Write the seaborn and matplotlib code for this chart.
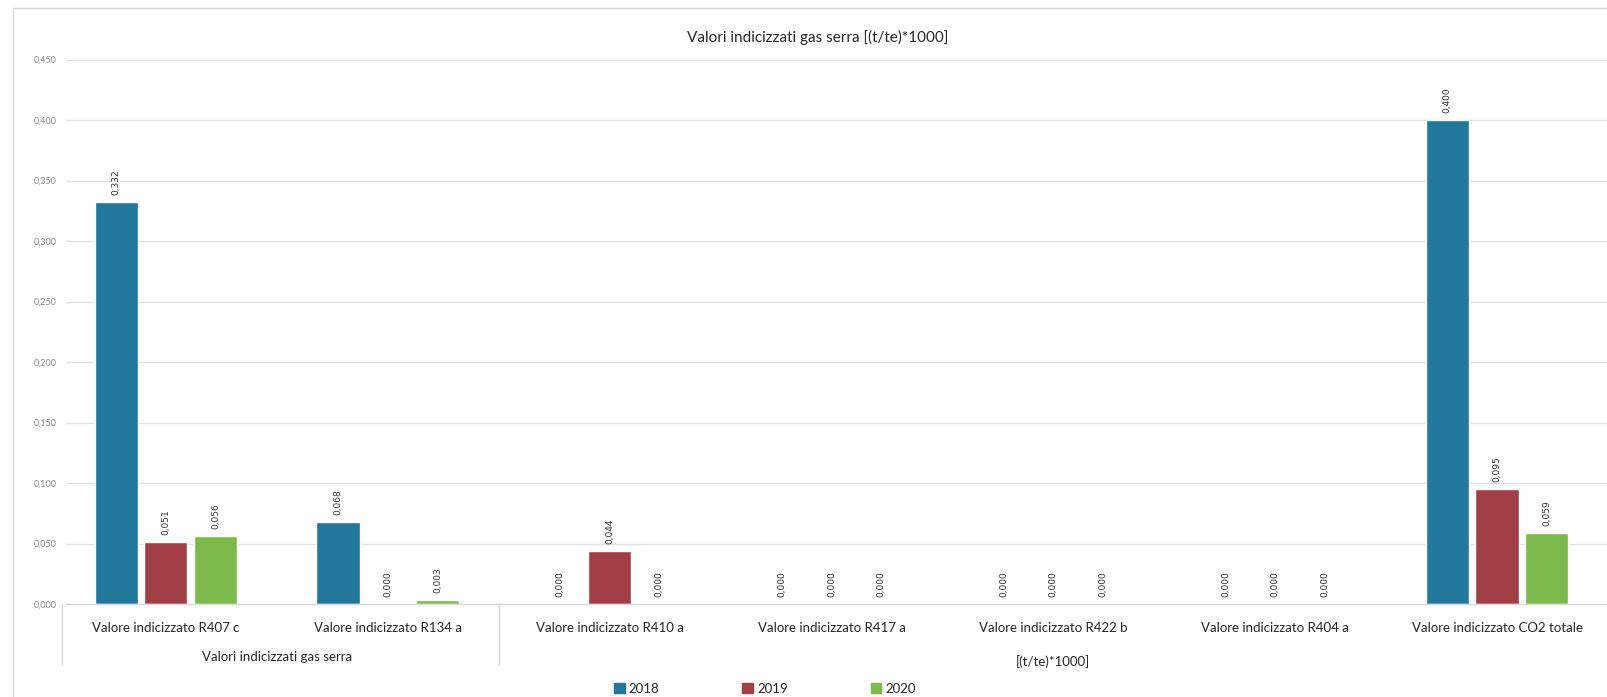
import matplotlib
matplotlib.use("Agg")
import matplotlib.pyplot as plt
import matplotlib.transforms as mtransforms
from matplotlib.lines import Line2D
import seaborn as sns
import pandas as pd

# Indexed greenhouse-gas values [(t/te)*1000] by refrigerant and year
categories = [
    "Valore indicizzato R407 c",
    "Valore indicizzato R134 a",
    "Valore indicizzato R410 a",
    "Valore indicizzato R417 a",
    "Valore indicizzato R422 b",
    "Valore indicizzato R404 a",
    "Valore indicizzato CO2 totale",
]
years = ["2018", "2019", "2020"]
values_2018 = [0.332, 0.068, 0.000, 0.000, 0.000, 0.000, 0.400]
values_2019 = [0.051, 0.000, 0.044, 0.000, 0.000, 0.000, 0.095]
values_2020 = [0.056, 0.003, 0.000, 0.000, 0.000, 0.000, 0.059]
y_ticks = [0.0, 0.05, 0.10, 0.15, 0.20, 0.25, 0.30, 0.35, 0.40, 0.45]

colors = ["#21789b", "#a23f46", "#7dba4c"]

df = pd.DataFrame({
    "Categoria": categories * 3,
    "Anno": [years[0]] * 7 + [years[1]] * 7 + [years[2]] * 7,
    "Valore": values_2018 + values_2019 + values_2020,
})

sns.set_theme(style="white")
plt.rcParams["font.family"] = ["Lato", "DejaVu Sans"]

fig = plt.figure(figsize=(16.08, 6.97), dpi=100)
ax = fig.add_axes([66 / 1608, 1 - 604 / 697, 1 - 66 / 1608, (604 - 59.5) / 697])

sns.barplot(
    data=df, x="Categoria", y="Valore", hue="Anno",
    order=categories, hue_order=years, palette=colors,
    width=0.672, gap=0.13, saturation=1, ax=ax, legend=False,
)

def fmt(v):
    return f"{v:.3f}".replace(".", ",")

for cont, vals in zip(ax.containers, [values_2018, values_2019, values_2020]):
    ax.bar_label(cont, labels=[fmt(v) for v in vals], rotation=90,
                 padding=5, fontsize=6.5, color="#333333",
                 family="DejaVu Sans")

ax.set_xlim(-0.45, 6.5)
ax.set_ylim(0, 0.45)
ax.set_yticks(y_ticks)
ax.set_yticklabels([fmt(t) for t in y_ticks], fontsize=6.5, color="#8a8a8a")
ax.tick_params(axis="y", length=0, pad=7)
ax.tick_params(axis="x", length=0, pad=13, labelsize=9.5, labelcolor="#262626")
ax.set_xlabel("")
ax.set_ylabel("")
ax.grid(axis="y", color="#dde6e1", linewidth=1)
ax.set_axisbelow(True)
for side in ["left", "right", "top"]:
    ax.spines[side].set_visible(False)
ax.spines["bottom"].set_color("#d9d9d9")
ax.spines["bottom"].set_linewidth(1)

# Two-level category axis: group labels and separators
blend = mtransforms.blended_transform_factory(ax.transData, fig.transFigure)
ax.text(0.5, 1 - 657 / 697, "Valori indicizzati gas serra", transform=blend,
        ha="center", va="center", fontsize=9.5, color="#262626")
ax.text(4.0, 1 - 662 / 697, "[(t/te)*1000]", transform=blend,
        ha="center", va="center", fontsize=9.5, color="#262626")
for xpos in [-0.47, 1.5]:
    ax.add_line(Line2D([xpos, xpos], [1 - 604 / 697, 1 - 665 / 697],
                       transform=blend, color="#d9d9d9", linewidth=1,
                       clip_on=False))

# Chart frame
fig.add_artist(Line2D([13 / 1608, 1], [1 - 8 / 697, 1 - 8 / 697],
                      transform=fig.transFigure, color="#d9d9d9", linewidth=1))
fig.add_artist(Line2D([13 / 1608, 13 / 1608], [0, 1 - 8 / 697],
                      transform=fig.transFigure, color="#d9d9d9", linewidth=1))

fig.text(818 / 1608, 1 - 37 / 697, "Valori indicizzati gas serra [(t/te)*1000]",
         ha="center", va="center", fontsize=11, color="#262626")

handles = [plt.Rectangle((0, 0), 1, 1, color=c) for c in colors]
fig.legend(handles, years, loc="center", ncol=3,
           bbox_to_anchor=(765 / 1608, 1 - 689 / 697), frameon=False,
           fontsize=9.5, handlelength=0.8, handleheight=0.8,
           handletextpad=0.3, columnspacing=6.3, labelcolor="#262626")

fig.savefig("out.png", dpi=100, facecolor="white")
